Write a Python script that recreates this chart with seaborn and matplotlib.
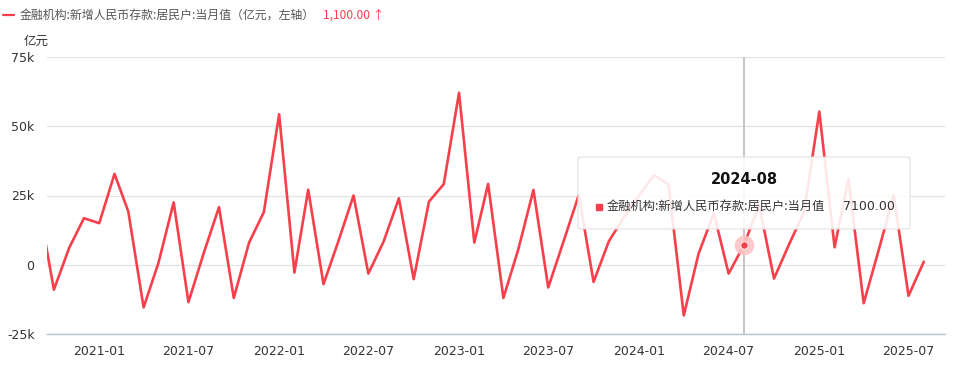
import matplotlib
matplotlib.use("Agg")
import matplotlib.pyplot as plt
import matplotlib.dates as mdates
from matplotlib.patches import FancyBboxPatch
from matplotlib.ticker import FuncFormatter
import seaborn as sns
import pandas as pd
import numpy as np

# ---------------- data ----------------
months = pd.date_range("2020-09-01", "2025-08-01", freq="MS")
values = [
    21000, -9000, 6100, 16800,                                                    # 2020-09..12
    15000, 32800, 19200, -15400, 600, 22500, -13500, 4200, 20800, -12000, 8000, 19000,   # 2021
    54300, -2800, 27100, -7000, 8400, 25000, -3200, 8400, 24000, -5200, 22800, 29100,    # 2022
    62100, 8000, 29200, -12000, 5400, 27000, -8200, 8400, 25200, -6200, 8500, 17000,     # 2023
    25000, 32300, 29000, -18300, 4000, 18600, -3200, 7100, 21600, -5000, 7500, 19000,    # 2024
    55300, 6300, 31000, -13900, 5000, 25100, -11200, 1100,                               # 2025
]
series_name = "金融机构:新增人民币存款:居民户:当月值"
legend_label = "金融机构:新增人民币存款:居民户:当月值（亿元，左轴）"
latest_text = "1,100.00 ↑"
unit_label = "亿元"
y_ticks = [-25000, 0, 25000, 50000, 75000]
x_tick_dates = ["2021-01-01", "2021-07-01", "2022-01-01", "2022-07-01", "2023-01-01",
                "2023-07-01", "2024-01-01", "2024-07-01", "2025-01-01", "2025-07-01"]
tooltip_date = "2024-08"
tooltip_value = "7100.00"

df = pd.DataFrame({"date": months, "value": values})

# ---------------- style ----------------
sns.set_theme(style="white")
plt.rcParams["font.family"] = ["DejaVu Sans", "Noto Sans CJK SC"]
plt.rcParams["axes.unicode_minus"] = False

W, H = 956, 372
fig = plt.figure(figsize=(W / 100, H / 100), dpi=100)
L, R, T, B = 47, 945, 57, 334
ax = fig.add_axes([L / W, 1 - B / H, (R - L) / W, (B - T) / H])

RED = "#f7404c"
sns.lineplot(data=df, x="date", y="value", ax=ax, color=RED, linewidth=1.9, zorder=3)

ax.set_xlim(pd.Timestamp("2020-09-17"), pd.Timestamp("2025-09-13"))
ax.set_ylim(-25000, 75000)
ax.set_yticks(y_ticks)
ax.yaxis.set_major_formatter(FuncFormatter(lambda v, p: "0" if v == 0 else f"{int(v/1000)}k"))
ax.set_xticks([pd.Timestamp(d) for d in x_tick_dates])
ax.xaxis.set_major_formatter(mdates.DateFormatter("%Y-%m"))
ax.set_xlabel("")
ax.set_ylabel("")

ax.grid(axis="y", color="#e3e3e3", linewidth=0.9)
ax.grid(axis="x", visible=False)
for s in ["top", "right", "left"]:
    ax.spines[s].set_visible(False)
ax.spines["bottom"].set_color("#b9c3d3")
ax.spines["bottom"].set_linewidth(1.0)
ax.tick_params(axis="x", colors="#b9c3d3", length=5, width=1, direction="out", pad=3,
               labelcolor="#333333", labelsize=9)
ax.tick_params(axis="y", length=0, pad=9, labelcolor="#333333", labelsize=9)

# crosshair
xd = pd.Timestamp("2024-08-01")
ax.axvline(xd, color="#c4c4c4", linewidth=1.4, zorder=2)
# highlight point
ax.scatter([xd], [7100], s=200, color="#ffc2c6", alpha=0.9, zorder=4, linewidths=0)
ax.scatter([xd], [7100], s=28, color=RED, zorder=5, edgecolors="white", linewidths=0.6)

# header legend
def fx(px):
    return px / W
def fy(py):
    return 1 - py / H

fig.add_artist(plt.Line2D([fx(3), fx(14)], [fy(15), fy(15)], color=RED, linewidth=1.6))
fig.text(fx(20), fy(15), legend_label, fontsize=8.6, color="#555555", va="center", ha="left",
         family=["Noto Sans CJK SC", "DejaVu Sans"])
fig.text(fx(323), fy(15), latest_text, fontsize=8.6, color=RED, va="center", ha="left",
         family=["Noto Sans CJK SC", "DejaVu Sans"])
fig.text(fx(24), fy(41), unit_label, fontsize=9, color="#333333", va="center", ha="left",
         family=["Noto Sans CJK SC", "DejaVu Sans"])

# tooltip
tx0, ty0, tx1, ty1 = 578, 157, 910, 229
box = FancyBboxPatch((fx(tx0), fy(ty1)), fx(tx1) - fx(tx0), fy(ty0) - fy(ty1),
                     boxstyle="round,pad=0,rounding_size=0.004",
                     transform=fig.transFigure, facecolor="white", alpha=0.88,
                     edgecolor="#dddddd", linewidth=0.8, zorder=10)
fig.add_artist(box)
fig.text(fx(744), fy(180), tooltip_date, fontsize=10.5, fontweight="bold", color="#111111",
         ha="center", va="center", zorder=11)
fig.add_artist(plt.Line2D([fx(599)], [fy(207)], marker="s", markersize=5, color=RED,
                          linestyle="none", zorder=11))
fig.text(fx(607), fy(207), series_name, fontsize=8.8, color="#333333", ha="left", va="center",
         family=["Noto Sans CJK SC", "DejaVu Sans"], zorder=11)
fig.text(fx(843), fy(207), tooltip_value, fontsize=9, color="#333333", ha="left", va="center",
         zorder=11)

fig.savefig("out.png", dpi=100)
